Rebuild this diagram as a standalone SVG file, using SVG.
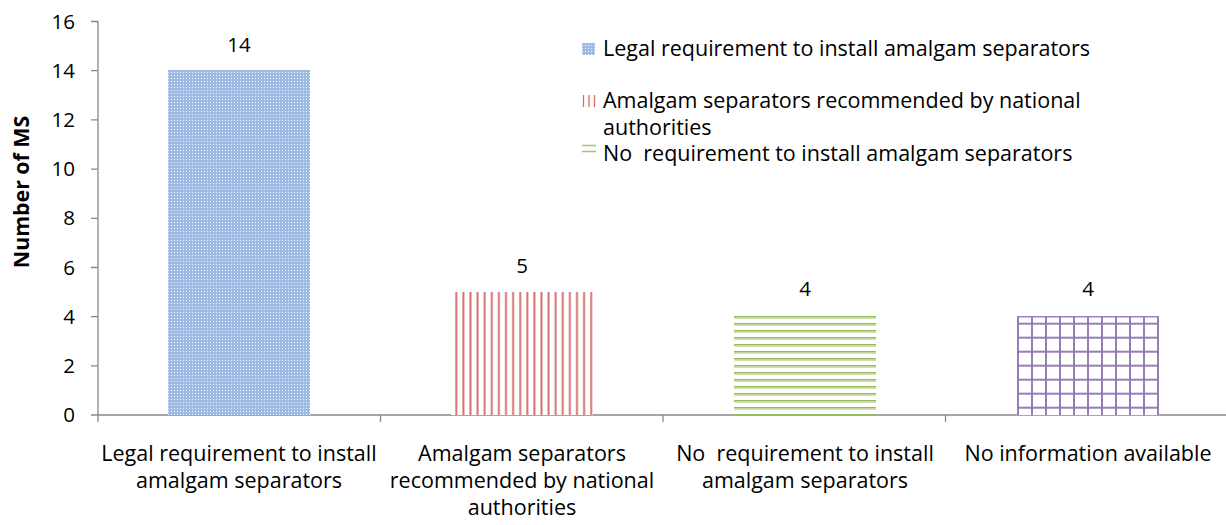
<svg xmlns="http://www.w3.org/2000/svg" width="1226" height="525" viewBox="0 0 1226 525">
<style>
  text { font-family: "Open Sans", "Liberation Sans", sans-serif; font-size: 21.5px; fill: #000; }
  .tick { text-anchor: end; font-size: 20.5px; }
  .val { text-anchor: middle; font-size: 20.5px; }
  .cat { text-anchor: middle; }
  .title { font-weight: bold; text-anchor: middle; font-size: 21.3px; }
  .axis { stroke: #898989; stroke-width: 1.3; fill: none; }
</style>
<defs>
  <pattern id="pBlue" patternUnits="userSpaceOnUse" width="3" height="3">
    <rect width="3" height="3" fill="#9fbbe3"/>
    <rect width="1" height="1" fill="#eef3fb"/>
  </pattern>
  <pattern id="pRed" patternUnits="userSpaceOnUse" x="455" y="0" width="7.1" height="10">
    <rect width="7.1" height="10" fill="#ffffff"/>
    <rect x="0" width="1" height="10" fill="#e3a3a2"/>
    <rect x="1" width="1.2" height="10" fill="#cc5b59"/>
  </pattern>
  <pattern id="pGreen" patternUnits="userSpaceOnUse" x="0" y="316" width="10" height="7">
    <rect width="10" height="7" fill="#ffffff"/>
    <rect y="0" width="10" height="1.6" fill="#98ba5c"/>
    <rect y="1.6" width="10" height="1.2" fill="#c6daa3"/>
  </pattern>
  <pattern id="pPurple" patternUnits="userSpaceOnUse" x="1017" y="308.7" width="14" height="14">
    <rect width="14" height="14" fill="#ffffff"/>
    <rect x="0" y="0" width="2" height="14" fill="#a28dc0"/>
    <rect x="0" y="0" width="14" height="2" fill="#a28dc0"/>
    <rect x="0.5" y="0" width="1" height="14" fill="#8a6fae"/>
    <rect x="0" y="0.5" width="14" height="1" fill="#8a6fae"/>
  </pattern>
</defs>

<g id="axes">
  <line class="axis" x1="98" y1="21" x2="98" y2="415"/>
  <line class="axis" x1="98" y1="415" x2="1226" y2="415"/>
  <path class="axis" d="M91 21.5H98M91 70.7H98M91 119.9H98M91 169.1H98M91 218.3H98M91 267.5H98M91 316.7H98M91 365.9H98M91 415H98"/>
  <path class="axis" d="M98 415V422M380.5 415V422M663 415V422M945.5 415V422"/>
</g>

<g id="y-ticks">
  <text class="tick" x="75" y="28.5">16</text>
  <text class="tick" x="75" y="77.7">14</text>
  <text class="tick" x="75" y="126.9">12</text>
  <text class="tick" x="75" y="176.1">10</text>
  <text class="tick" x="75" y="225.3">8</text>
  <text class="tick" x="75" y="274.5">6</text>
  <text class="tick" x="75" y="323.7">4</text>
  <text class="tick" x="75" y="372.9">2</text>
  <text class="tick" x="75" y="422">0</text>
</g>

<g id="y-title">
  <text class="title" transform="translate(29,192) rotate(-90)">Number of MS</text>
</g>

<g id="bar1">
  <rect x="168" y="70" width="142" height="345" fill="url(#pBlue)"/>
  <text class="val" x="239" y="52">14</text>
</g>
<g id="bar2">
  <rect x="451" y="292" width="142" height="123" fill="url(#pRed)"/>
  <text class="val" x="522" y="273">5</text>
</g>
<g id="bar3">
  <rect x="734" y="316" width="142" height="99" fill="url(#pGreen)"/>
  <text class="val" x="805" y="296">4</text>
</g>
<g id="bar4">
  <rect x="1017" y="316" width="142" height="99" fill="url(#pPurple)"/>
  <rect x="1017" y="316" width="142" height="1.5" fill="#9a82bb"/>
  <text class="val" x="1088" y="296">4</text>
</g>

<g id="categories">
  <text class="cat" x="239" y="461">Legal requirement to install</text>
  <text class="cat" x="239" y="488">amalgam separators</text>
  <text class="cat" x="522" y="461">Amalgam separators</text>
  <text class="cat" x="522" y="488">recommended by national</text>
  <text class="cat" x="522" y="515">authorities</text>
  <text class="cat" x="805" y="461" xml:space="preserve">No  requirement to install</text>
  <text class="cat" x="805" y="488">amalgam separators</text>
  <text class="cat" x="1088" y="461">No information available</text>
</g>

<g id="legend">
  <rect x="582" y="43" width="13" height="12" fill="url(#pBlue)"/>
  <text x="603" y="56">Legal requirement to install amalgam separators</text>
  <path d="M583.5 95V107M589 95V107M594.5 95V107" stroke="#d46e6c" stroke-width="1.3"/>
  <text x="603" y="108">Amalgam separators recommended by national</text>
  <text x="603" y="135">authorities</text>
  <path d="M582 145.5H596M582 151.5H596" stroke="#a5c475" stroke-width="1.6"/>
  <text x="603" y="161" xml:space="preserve">No  requirement to install amalgam separators</text>
</g>
</svg>
